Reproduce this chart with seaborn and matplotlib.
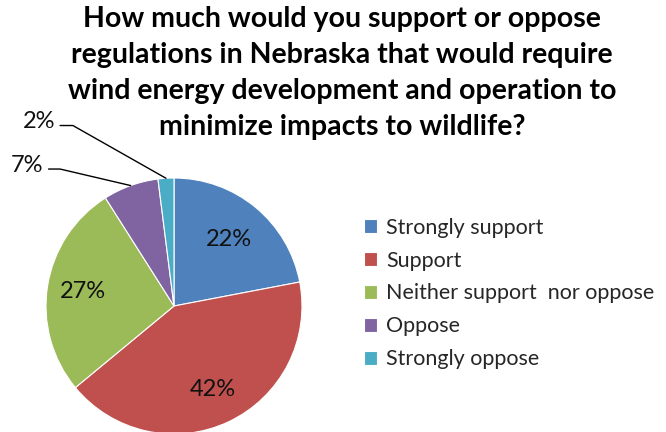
import numpy as np
import matplotlib
matplotlib.use('Agg')
import matplotlib.pyplot as plt
import seaborn as sns

# Data
categories = ['Strongly support', 'Support', 'Neither support  nor oppose', 'Oppose', 'Strongly oppose']
values = [22, 42, 27, 7, 2]
colors = ['#4F81BD', '#C0504D', '#9BBB59', '#8064A2', '#4BACC6']
title = ('How much would you support or oppose\n'
         'regulations in Nebraska that would require\n'
         'wind energy development and operation to\n'
         'minimize impacts to wildlife?')

sns.set_theme(style='white')
plt.rcParams['font.family'] = ['Lato', 'DejaVu Sans']

W, H = 666, 432
fig = plt.figure(figsize=(W / 100, H / 100), dpi=100)
fig.patch.set_facecolor('white')

# pie axes: center (174, 306) px, radius 128 px
cx, cy, r = 174, 306, 128
ax = fig.add_axes([(cx - r) / W, (H - cy - r) / H, 2 * r / W, 2 * r / H])
wedges, _ = ax.pie(values, colors=colors, startangle=90, counterclock=False,
                   radius=1.0, wedgeprops=dict(linewidth=0.8, edgecolor='white'))
ax.set_xlim(-1, 1)
ax.set_ylim(-1, 1)
ax.set_aspect('equal')
ax.axis('off')

# labels inside the big slices
inner_r = [0.67, 0.72, 0.72]
for w, v, rr in zip(wedges[:3], values[:3], inner_r):
    ang = np.deg2rad((w.theta1 + w.theta2) / 2)
    ax.text(rr * np.cos(ang), rr * np.sin(ang), f'{v}%', ha='center', va='center',
            fontsize=17, color='#111111')

# small slices: outside labels with leader lines
outside = {3: ((-0.89, 1.07), (-0.98, 1.07)), 4: ((-0.79, 1.41), (-0.89, 1.41))}
for i, (elbow, end) in outside.items():
    w = wedges[i]
    ang = np.deg2rad((w.theta1 + w.theta2) / 2)
    p0 = (np.cos(ang), np.sin(ang))
    ax.plot([p0[0], elbow[0], end[0]], [p0[1], elbow[1], end[1]],
            color='black', linewidth=1.0, clip_on=False)
    ax.text(end[0] - 0.04, end[1] + 0.03, f'{values[i]}%', ha='right', va='center',
            fontsize=17, color='#111111', clip_on=False)

fig.text(342 / W, 1 - 6 / H, title, ha='center', va='top', fontsize=20.5,
         fontweight='bold', linespacing=1.47, color='black')

fig.legend(wedges, categories, loc='upper left', bbox_to_anchor=(355 / W, 1 - 209 / H),
           frameon=False, fontsize=15.5, handlelength=0.6, handleheight=0.6,
           handletextpad=0.45, labelspacing=0.6, borderaxespad=0)

fig.savefig('out.png', dpi=100, facecolor='white')
